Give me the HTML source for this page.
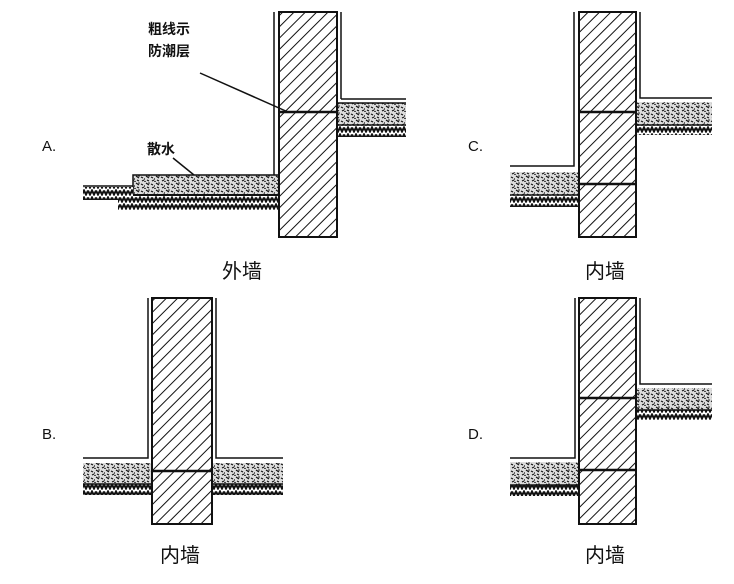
<!DOCTYPE html>
<html><head><meta charset="utf-8"><style>
html,body{margin:0;padding:0;background:#fff;width:734px;height:584px;overflow:hidden}
svg{display:block}
text{font-family:"Liberation Sans","Noto Sans CJK SC",sans-serif;fill:#111}
</style></head><body>
<svg width="734" height="584" viewBox="0 0 734 584" xmlns="http://www.w3.org/2000/svg">
<defs>
<pattern id="h" width="8" height="8" patternUnits="userSpaceOnUse" patternTransform="rotate(45)">
<rect width="8" height="8" fill="#fff"/><line x1="0" y1="0" x2="0" y2="8" stroke="#111" stroke-width="2"/></pattern>
<pattern id="c" width="10" height="7" patternUnits="userSpaceOnUse">
<rect width="10" height="7" fill="#ddd"/>
<path d="M1 2l2 1M6 1l3 2M2 6l2-1M7 5l2 1M4 4h1" stroke="#111" stroke-width="1.2"/>
<circle cx="9" cy="1" r="0.8" fill="#111"/><circle cx="5" cy="6.5" r="0.8" fill="#111"/></pattern>
<pattern id="e" width="8" height="7" patternUnits="userSpaceOnUse">
<rect width="8" height="7" fill="#fff"/>
<path d="M0 1.5l2 4 2-4 2 4 2-4" stroke="#111" stroke-width="2" fill="none"/></pattern>
</defs>
<g stroke="#111" fill="none">
<!-- A -->
<rect x="279" y="12" width="58" height="225" fill="url(#h)" stroke-width="2"/>
<line x1="274" y1="12" x2="274" y2="176" stroke-width="1.5"/>
<line x1="341" y1="12" x2="341" y2="99" stroke-width="1.5"/>
<line x1="341" y1="99" x2="406" y2="99" stroke-width="1.5"/>
<rect x="338" y="103" width="68" height="22" fill="url(#c)" stroke="none"/>
<rect x="338" y="125" width="68" height="12" fill="url(#e)" stroke="none"/>
<line x1="338" y1="103" x2="406" y2="103" stroke-width="1.5"/>
<line x1="338" y1="125" x2="406" y2="125" stroke-width="1.5"/>
<line x1="279" y1="112" x2="337" y2="112" stroke-width="2.5"/>
<rect x="133" y="175" width="145" height="20" fill="url(#c)" stroke="none"/>
<path d="M133 195V175H278" stroke-width="1.5"/>
<line x1="133" y1="195" x2="278" y2="195" stroke-width="2"/>
<rect x="118" y="196" width="160" height="14" fill="url(#e)" stroke="none"/>
<rect x="83" y="187" width="50" height="13" fill="url(#e)" stroke="none"/>
<line x1="83" y1="186" x2="133" y2="186" stroke-width="1.5"/>
<line x1="200" y1="73" x2="288" y2="112" stroke-width="1.5"/>
<line x1="173" y1="158" x2="194" y2="175" stroke-width="1.5"/>
<!-- C -->
<rect x="579" y="12" width="57" height="225" fill="url(#h)" stroke-width="2"/>
<path d="M574 12V166H510" stroke-width="1.5"/>
<path d="M640 12V98H712" stroke-width="1.5"/>
<rect x="510" y="172" width="68" height="23" fill="url(#c)" stroke="none"/>
<rect x="510" y="195" width="68" height="12" fill="url(#e)" stroke="none"/>
<line x1="510" y1="195" x2="578" y2="195" stroke-width="1.5"/>
<rect x="637" y="102" width="75" height="23" fill="url(#c)" stroke="none"/>
<rect x="637" y="125" width="75" height="10" fill="url(#e)" stroke="none"/>
<line x1="637" y1="125" x2="712" y2="125" stroke-width="1.5"/>
<line x1="579" y1="112" x2="636" y2="112" stroke-width="2.5"/>
<line x1="579" y1="184" x2="636" y2="184" stroke-width="2.5"/>
<!-- B -->
<rect x="152" y="298" width="60" height="226" fill="url(#h)" stroke-width="2"/>
<path d="M148 298V458H83" stroke-width="1.5"/>
<path d="M216 298V458H283" stroke-width="1.5"/>
<rect x="83" y="463" width="68" height="21" fill="url(#c)" stroke="none"/>
<rect x="83" y="484" width="68" height="11" fill="url(#e)" stroke="none"/>
<rect x="213" y="463" width="70" height="21" fill="url(#c)" stroke="none"/>
<rect x="213" y="484" width="70" height="11" fill="url(#e)" stroke="none"/>
<line x1="83" y1="484" x2="151" y2="484" stroke-width="1.5"/>
<line x1="213" y1="484" x2="283" y2="484" stroke-width="1.5"/>
<line x1="152" y1="471" x2="212" y2="471" stroke-width="2.5"/>
<!-- D -->
<rect x="579" y="298" width="57" height="226" fill="url(#h)" stroke-width="2"/>
<path d="M575 298V458H510" stroke-width="1.5"/>
<path d="M640 298V384H712" stroke-width="1.5"/>
<rect x="510" y="462" width="68" height="23" fill="url(#c)" stroke="none"/>
<rect x="510" y="485" width="68" height="11" fill="url(#e)" stroke="none"/>
<line x1="510" y1="485" x2="578" y2="485" stroke-width="1.5"/>
<rect x="637" y="388" width="75" height="22" fill="url(#c)" stroke="none"/>
<rect x="637" y="410" width="75" height="10" fill="url(#e)" stroke="none"/>
<line x1="637" y1="410" x2="712" y2="410" stroke-width="1.5"/>
<line x1="579" y1="398" x2="636" y2="398" stroke-width="2.5"/>
<line x1="579" y1="470" x2="636" y2="470" stroke-width="2.5"/>
</g>
<text x="148" y="34" font-size="14" font-weight="bold">粗线示</text>
<text x="148" y="56" font-size="14" font-weight="bold">防潮层</text>
<text x="147" y="154" font-size="14" font-weight="bold">散水</text>
<text x="42" y="151" font-size="15">A.</text>
<text x="468" y="151" font-size="15">C.</text>
<text x="42" y="439" font-size="15">B.</text>
<text x="468" y="439" font-size="15">D.</text>
<text x="222" y="278" font-size="20">外墙</text>
<text x="585" y="278" font-size="20">内墙</text>
<text x="160" y="562" font-size="20">内墙</text>
<text x="585" y="562" font-size="20">内墙</text>
</svg>
</body></html>
